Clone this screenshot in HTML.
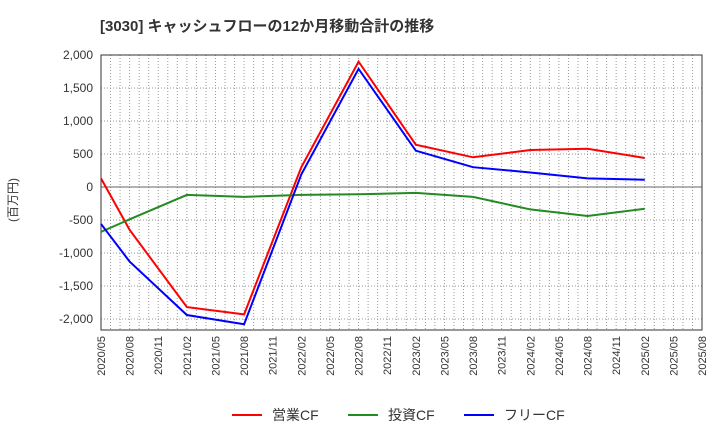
<!DOCTYPE html>
<html><head><meta charset="utf-8"><style>
body{margin:0;background:#fff;font-family:"Liberation Sans","Noto Sans CJK JP",sans-serif}
</style></head><body>
<svg id="c" width="720" height="440" xmlns="http://www.w3.org/2000/svg">
<text x="100" y="31" font-size="15" font-weight="bold" fill="#333">[3030]  キャッシュフローの12か月移動合計の推移</text>
<text transform="translate(17,200) rotate(-90)" font-size="12" fill="#333" text-anchor="middle">(百万円)</text>
<g id="grid"></g><g id="axes"></g><g id="lines"></g>
<g>
<line x1="232" y1="415" x2="262" y2="415" stroke="#f00" stroke-width="2"/><text x="272" y="420" font-size="14" fill="#333">営業CF</text>
<line x1="348" y1="415" x2="378" y2="415" stroke="#228b22" stroke-width="2"/><text x="388" y="420" font-size="14" fill="#333">投資CF</text>
<line x1="464" y1="415" x2="494" y2="415" stroke="#00f" stroke-width="2"/><text x="504" y="420" font-size="14" fill="#333">フリーCF</text>
</g>
</svg>
<script>
const categories=["2020/05","2020/08","2020/11","2021/02","2021/05","2021/08","2021/11","2022/02","2022/05","2022/08","2022/11","2023/02","2023/05","2023/08","2023/11","2024/02","2024/05","2024/08","2024/11","2025/02","2025/05","2025/08"];
const pointIdx=[0,1,3,5,7,9,11,13,15,17,19];
const operatingCF=[130,-650,-1820,-1930,300,1900,640,450,560,580,440];
const investingCF=[-680,-490,-120,-150,-120,-110,-90,-150,-340,-440,-330];
const freeCF=[-560,-1130,-1940,-2080,190,1790,550,300,220,130,110];
const yTicks=[2000,1500,1000,500,0,-500,-1000,-1500,-2000];
const NS="http://www.w3.org/2000/svg";
const L=101,R=702,T=55,B=330,yMax=2000,yMin=-2167;
const N=categories.length-1;
const xs=i=>L+(R-L)*i/N;
const ys=v=>T+(B-T)*(yMax-v)/(yMax-yMin);
function mk(t,a,p){const e=document.createElementNS(NS,t);for(const k in a)e.setAttribute(k,a[k]);p.appendChild(e);return e;}
const g=document.getElementById('grid'),ax=document.getElementById('axes'),ln=document.getElementById('lines');
for(let m=1;m<N*3;m++){const x=L+(R-L)*m/(N*3);const e=mk('line',{x1:x,y1:T,x2:x,y2:B,stroke:'#999','stroke-dasharray':'1,2','stroke-width':1},g);

}
yTicks.forEach(v=>{const y=ys(v);const e=mk('line',{x1:L,y1:y,x2:R,y2:y,stroke:v===0?'#666':'#999','stroke-dasharray':v===0?'':'1,2','stroke-width':1},g);


const t=mk('text',{x:L-8,y:y+4,'text-anchor':'end','font-size':12,fill:'#333'},ax);t.textContent=v.toLocaleString('en-US');

});
const fr=mk('rect',{x:L,y:T,width:R-L,height:B-T,fill:'none',stroke:'#333'},ax);


categories.forEach((c,i)=>{const x=xs(i);const t=mk('text',{transform:`translate(${x+4},${B+6}) rotate(-90)`,'text-anchor':'end','font-size':11,fill:'#333'},ax);t.textContent=c;

});
[[operatingCF,'#f00','operating-cf-line'],[investingCF,'#228b22','investing-cf-line'],[freeCF,'#00f','free-cf-line']].forEach(([d,c,n])=>{
const p=mk('polyline',{points:d.map((v,k)=>xs(pointIdx[k])+','+ys(v)).join(' '),fill:'none',stroke:c,'stroke-width':2},ln);

});
</script>
</body></html>
